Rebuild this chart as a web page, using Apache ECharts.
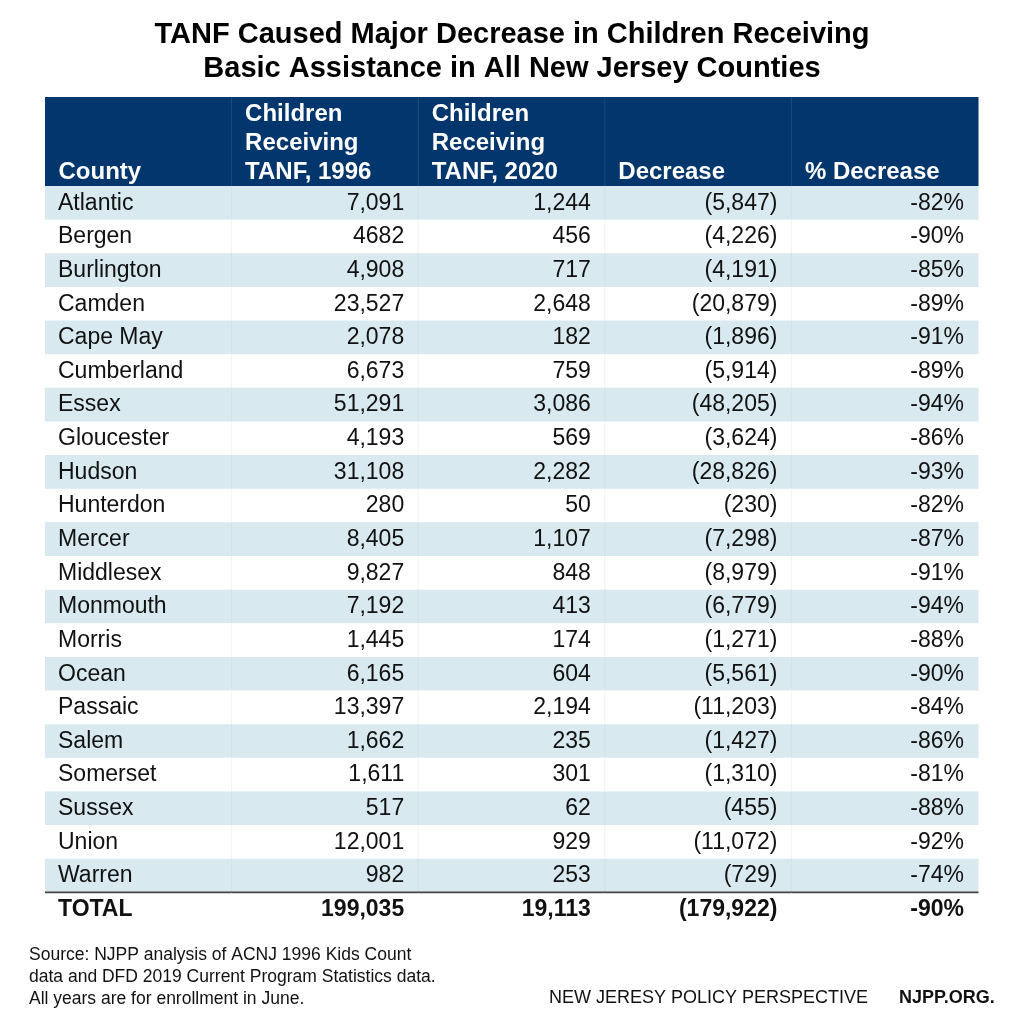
<!DOCTYPE html>
<html><head><meta charset="utf-8">
<script src="https://cdn.jsdelivr.net/npm/echarts@6/dist/echarts.min.js"></script>
<style>html,body{margin:0;padding:0;background:#fff}#c{width:1024px;height:1024px}</style>
</head><body><div id="c"></div>
<script>
// ---- data ----
const titleText = 'TANF Caused Major Decrease in Children Receiving\nBasic Assistance in All New Jersey Counties';
const headers = ['County', 'Children\nReceiving\nTANF, 1996', 'Children\nReceiving\nTANF, 2020', 'Decrease', '% Decrease'];
const counties = ['Atlantic','Bergen','Burlington','Camden','Cape May','Cumberland','Essex','Gloucester','Hudson','Hunterdon','Mercer','Middlesex','Monmouth','Morris','Ocean','Passaic','Salem','Somerset','Sussex','Union','Warren'];
const tanf1996 = [7091,4682,4908,23527,2078,6673,51291,4193,31108,280,8405,9827,7192,1445,6165,13397,1662,1611,517,12001,982];
const tanf2020 = [1244,456,717,2648,182,759,3086,569,2282,50,1107,848,413,174,604,2194,235,301,62,929,253];
const decrease = [5847,4226,4191,20879,1896,5914,48205,3624,28826,230,7298,8979,6779,1271,5561,11203,1427,1310,455,11072,729];
const pctDecrease = [82,90,85,89,91,89,94,86,93,82,87,91,94,88,90,84,86,81,88,92,74];
const totalLabel = 'TOTAL';
const total1996 = 199035, total2020 = 19113, totalDecrease = 179922, totalPct = 90;
const printedWithoutComma = ['Bergen']; // 1996 value printed as "4682" in the source
const sourceText = 'Source: NJPP analysis of ACNJ 1996 Kids Count\ndata and DFD 2019 Current Program Statistics data.\nAll years are for enrollment in June.';
const orgText = 'NEW JERESY POLICY PERSPECTIVE';
const siteText = 'NJPP.ORG.';

// ---- build ----
const NAVY = '#03366c', BLUE = '#d8e9ef', FONT = '"Liberation Sans", Arial, Helvetica, sans-serif';
const rows = counties.concat([totalLabel]);
const v1996 = tanf1996.concat([total1996]);
const v2020 = tanf2020.concat([total2020]);
const vDec = decrease.concat([totalDecrease]);
const vPct = pctDecrease.concat([totalPct]);
const fmt = n => n.toLocaleString('en-US');
function cellText(c, r) {
  if (c === 0) return rows[r];
  if (c === 1) return printedWithoutComma.includes(rows[r]) ? String(v1996[r]) : fmt(v1996[r]);
  if (c === 2) return fmt(v2020[r]);
  if (c === 3) return '(' + fmt(vDec[r]) + ')';
  return '-' + vPct[r] + '%';
}
const colIdx = [0,1,2,3,4];
const bodyData = [];
rows.forEach((_, r) => colIdx.forEach(c => bodyData.push([c, r])));
const headData = colIdx.map(c => [c, 0]);

function renderHead(params, api) {
  const c = api.value(0);
  const p = api.coord([c, 0]), s = api.size([1, 1]);
  const x0 = p[0] - s[0] / 2, y0 = p[1] - s[1] / 2;
  const ch = [{type: 'rect', shape: {x: x0, y: y0, width: s[0] + 0.5, height: s[1]}, style: {fill: NAVY}}];
  if (c > 0) ch.push({type: 'line', shape: {x1: x0, y1: y0, x2: x0, y2: y0 + s[1]}, style: {stroke: '#1c4a7c', lineWidth: 1}});
  ch.push({type: 'text', x: x0 + 13.5, y: y0 + s[1] + 0.5,
    style: {text: headers[c], fill: '#fff', font: 'bold 24px ' + FONT, lineHeight: 29, align: 'left', verticalAlign: 'bottom'}});
  return {type: 'group', children: ch};
}
function renderBody(params, api) {
  const c = api.value(0), r = api.value(1);
  const p = api.coord([c, r]), s = api.size([1, 1]);
  const x0 = p[0] - s[0] / 2, y0 = p[1] - s[1] / 2, w = s[0], h = s[1];
  const isTotal = r === rows.length - 1;
  const fill = (!isTotal && r % 2 === 0) ? BLUE : '#ffffff';
  const ch = [{type: 'rect', shape: {x: x0, y: y0, width: w + 0.5, height: h + 0.5}, style: {fill}}];
  if (c > 0 && !isTotal) ch.push({type: 'line', shape: {x1: x0, y1: y0, x2: x0, y2: y0 + h}, style: {stroke: r % 2 === 0 ? '#d0e3ea' : '#f3f3f3', lineWidth: 1}});
  if (isTotal) ch.push({type: 'line', shape: {x1: x0, y1: y0, x2: x0 + w + 0.5, y2: y0}, style: {stroke: '#444', lineWidth: 1.6}});
  ch.push({type: 'text', x: c === 0 ? x0 + 13 : x0 + w - 14, y: p[1] + 0.5,
    style: {text: cellText(c, r), fill: '#111', font: (isTotal ? 'bold ' : '') + '23px ' + FONT, align: c === 0 ? 'left' : 'right', verticalAlign: 'middle'}});
  return {type: 'group', children: ch};
}

const chart = echarts.init(document.getElementById('c'), null, {renderer: 'canvas'});
chart.setOption({
  animation: false,
  backgroundColor: '#fff',
  grid: [
    {left: 45, right: 46, top: 97, height: 89},
    {left: 45, right: 46, top: 186, height: 740}
  ],
  xAxis: [
    {gridIndex: 0, type: 'category', data: headers, show: false},
    {gridIndex: 1, type: 'category', data: headers, show: false}
  ],
  yAxis: [
    {gridIndex: 0, type: 'category', data: ['header'], show: false},
    {gridIndex: 1, type: 'category', data: rows, inverse: true, show: false}
  ],
  series: [
    {type: 'custom', xAxisIndex: 0, yAxisIndex: 0, data: headData, renderItem: renderHead, silent: true, clip: false},
    {type: 'custom', xAxisIndex: 1, yAxisIndex: 1, data: bodyData, renderItem: renderBody, silent: true, clip: false}
  ],
  graphic: [
    {type: 'text', x: 512, y: 18, style: {text: titleText, font: 'bold 29px ' + FONT, fill: '#000', align: 'center', verticalAlign: 'top', lineHeight: 34}},
    {type: 'text', left: 29, top: 944, style: {text: sourceText, font: '17.5px ' + FONT, fill: '#111', lineHeight: 22}},
    {type: 'text', left: 549, top: 989, style: {text: orgText, font: '18px ' + FONT, fill: '#111'}},
    {type: 'text', left: 899, top: 989, style: {text: siteText, font: 'bold 18px ' + FONT, fill: '#111'}}
  ]
});
</script></body></html>
